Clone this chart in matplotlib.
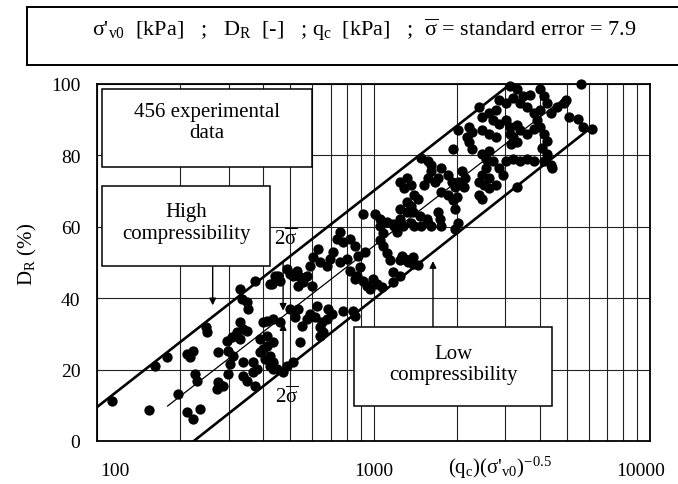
import numpy as np
import matplotlib
matplotlib.use("Agg")
import matplotlib.pyplot as plt
import matplotlib.transforms as mtransforms
from matplotlib.patches import Rectangle

plt.rcParams['font.family'] = ['Liberation Serif', 'DejaVu Serif']
plt.rcParams['mathtext.fontset'] = 'custom'
plt.rcParams['mathtext.rm'] = 'Liberation Serif'
plt.rcParams['mathtext.it'] = 'Liberation Serif:italic'

# normalised cone resistance (qc)(sigma'v0)^-0.5 and relative density DR (%)
q_norm = [
    113, 154, 162, 179, 196, 212, 222, 217, 248, 250, 226, 230, 212, 222, 236,
    274, 274, 272, 286, 295, 308, 321, 337, 298, 310, 303, 298, 337, 329, 349,
    351, 334, 372, 366, 379, 372, 389, 399, 412, 405, 423, 433, 399, 433, 430,
    441,
    916, 1012, 1055, 1119, 1177, 1279, 1216, 1321, 1390, 1472, 1561, 757, 738,
    776, 822, 857, 879, 931, 714, 697, 757, 802, 630, 604, 641, 679, 589, 575,
    600, 529, 512, 542, 556, 533, 487, 499, 452, 459, 423,
    822, 871, 857, 916, 947, 995, 1030, 970, 1074, 1177, 1247, 1177, 1300, 1390,
    1333, 1390, 1268, 893, 684, 708, 679, 652, 625, 589, 575, 614, 641, 656, 641,
    843, 857, 776, 533, 520, 551, 542, 499, 459, 412, 412, 433, 389, 423, 433,
    448, 471, 487, 512, 366, 337, 349, 329, 349, 329,
    5629, 3116, 3303, 3472, 3680, 3998, 4136, 2844, 3014, 3196, 3386, 2408, 2468,
    2618, 2774, 2706, 2844, 3014, 3116, 3303, 3591, 3805, 3998, 4240, 4384, 4612,
    4887, 4970, 5094, 5491, 5726, 6167, 3900, 3998, 4136, 4240, 4064, 4240, 4136,
    4384, 4420, 3386, 3591, 3805, 3116, 3196, 3303, 3143, 2023, 2215, 2270, 2468,
    2618, 2774, 2179, 2215, 2270, 1940, 2468, 2553, 2618, 2706, 2553, 2468, 2618,
    2408, 2512, 2844, 2940, 3014, 3196, 3386, 3591, 3805, 2774, 2618, 2408, 2468,
    3303, 2143, 2091, 2023, 2125, 1754, 1710, 1668, 1858, 1921, 1972, 2005, 1754,
    1858, 1940, 1972, 1614, 1574, 1523, 1486, 1574, 1614, 1367, 1288, 1247, 1321,
    1400, 1367, 1449, 1247, 1247, 1321, 1367, 1400, 1486, 1574, 1614, 1710, 1738,
    1754, 2023, 1972, 1186, 1081, 1055, 1081, 1119, 1148, 1247, 1321, 1449, 1055,
]
d_r = [
    11.2, 8.7, 21.0, 23.5, 13.2, 24.4, 25.2, 23.5, 31.9, 30.5, 18.8, 16.8, 8.1,
    6.2, 9.0, 24.9, 16.5, 14.6, 15.4, 28.0, 29.1, 30.5, 31.4, 25.2, 23.8, 21.6,
    18.8, 18.2, 42.6, 38.9, 37.0, 39.8, 44.8, 22.1, 20.2, 15.4, 28.6, 25.8, 26.6,
    23.0, 21.0, 20.2, 33.3, 34.2, 44.0, 46.2,
    63.6, 63.6, 62.2, 61.3, 60.8, 60.2, 58.5, 66.9, 64.1, 63.0, 62.2, 58.5, 56.6,
    55.7, 56.6, 54.6, 51.8, 52.9, 52.9, 51.0, 50.1, 51.0, 53.8, 51.5, 50.1, 49.0,
    49.0, 46.2, 43.4, 47.6, 46.2, 45.9, 44.5, 43.4, 48.2, 46.8, 46.2, 44.8, 44.0,
    47.6, 46.2, 45.4, 44.8, 43.4, 45.4, 44.0, 42.6, 43.1, 47.3, 46.2, 44.5, 51.0,
    51.5, 50.1, 49.6, 51.8, 48.7, 37.0, 35.6, 34.2, 33.3, 37.8, 35.6, 34.2, 34.7,
    31.9, 30.5, 29.4, 36.4, 35.0, 36.4, 37.0, 34.7, 32.2, 27.7, 37.0, 33.3, 33.6,
    29.4, 27.7, 24.9, 23.8, 22.1, 20.2, 19.3, 21.0, 22.1, 19.3, 22.1, 16.8, 33.3,
    30.8, 28.6,
    100.0, 99.4, 98.6, 96.6, 96.9, 98.6, 96.6, 95.5, 94.7, 96.1, 94.7, 93.6, 90.8,
    91.9, 92.7, 89.9, 88.8, 89.9, 88.0, 88.5, 93.6, 91.9, 92.7, 94.7, 91.9, 93.6,
    94.7, 95.5, 90.8, 90.2, 88.0, 87.4, 89.9, 88.0, 86.0, 84.0, 82.1, 80.4, 78.4,
    77.3, 76.5, 87.1, 86.0, 87.4, 86.0, 85.2, 83.8, 83.2, 87.1, 88.0, 86.6, 87.1,
    86.0, 85.2, 85.2, 83.8, 81.8, 81.8, 80.4, 79.0, 81.2, 78.4, 76.5, 74.5, 73.7,
    72.5, 71.7, 76.5, 74.5, 78.4, 79.0, 78.4, 79.0, 78.4, 71.7, 70.9, 68.9, 67.8,
    71.1, 73.7, 75.6, 72.5, 71.1, 76.5, 73.7, 72.5, 74.5, 72.5, 71.1, 68.3, 69.7,
    68.9, 67.5, 65.0, 75.6, 73.7, 71.7, 79.3, 78.4, 77.3, 71.7, 70.9, 72.5, 73.7,
    68.9, 65.8, 67.8, 65.0, 62.2, 64.1, 61.1, 60.2, 60.2, 61.1, 60.2, 64.1, 62.2,
    60.2, 61.1, 59.4, 60.2, 58.3, 60.2, 54.6, 52.7, 50.7, 50.7, 50.7, 49.3, 56.3,
]

# band lines (mean and +/- 2 standard errors), end points
upper_x, upper_y = [100, 3130], [9.5, 100]
centre_x, centre_y = [180, 4900], [9.8, 96]
lower_x, lower_y = [224, 6170], [0, 88]

fig = plt.figure(figsize=(6.78, 4.85), dpi=100)
ax = fig.add_axes([0.1431, 0.0887, 0.8156, 0.7361])

ax.set_xscale('log')
ax.set_xlim(100, 10000)
ax.set_ylim(0, 100)
ax.set_xticks([100, 1000, 10000])
ax.set_xticklabels(['100', '1000', '10000'])
ax.set_yticks([0, 20, 40, 60, 80, 100])
ax.tick_params(axis='both', which='both', length=0, labelsize=14)
ax.tick_params(axis='x', pad=15)
ax.tick_params(axis='y', pad=12)
ax.grid(True, which='both', axis='x', color='#222222', lw=0.8)
ax.grid(True, which='major', axis='y', color='#222222', lw=0.8)
for s in ax.spines.values():
    s.set_linewidth(1.3)

# the scanned labels sit a little off their grid lines
xlabels = ax.get_xticklabels()
xlabels[0].set_transform(xlabels[0].get_transform() +
                         mtransforms.ScaledTranslation(18 / 100, 0, fig.dpi_scale_trans))
xlabels[2].set_transform(xlabels[2].get_transform() +
                         mtransforms.ScaledTranslation(-9 / 100, 0, fig.dpi_scale_trans))

ax.plot(upper_x, upper_y, color='k', lw=1.9, zorder=4)
ax.plot(lower_x, lower_y, color='k', lw=1.9, zorder=4)
ax.plot(centre_x, centre_y, color='k', lw=0.9, zorder=4)
ax.scatter(q_norm, d_r, s=55, c='k', linewidths=0, zorder=5, clip_on=False)

# 2 sigma arrows
arw = dict(arrowstyle='-|>', color='k', lw=1.0, mutation_scale=10, shrinkA=0, shrinkB=0)
ax.annotate('', xy=(471, 36.5), xytext=(471, 50.2), arrowprops=arw, zorder=6)
ax.annotate('', xy=(471, 33.0), xytext=(471, 19.7), arrowprops=arw, zorder=6)
ax.text(480, 56.8, r'2$\overline{\mathrm{\sigma}}$', fontsize=15, ha='center', va='center')
ax.text(487, 12.6, r'2$\overline{\mathrm{\sigma}}$', fontsize=15, ha='center', va='center')
ax.annotate('', xy=(262, 38.0), xytext=(262, 49.0), arrowprops=arw, zorder=6)
ax.annotate('', xy=(1641, 50.4), xytext=(1641, 31.9), arrowprops=arw, zorder=6)

# text boxes
boxes = [
    (0.009, 0.767, 0.380, 0.219, '456 experimental\ndata', 0.893),
    (0.009, 0.490, 0.304, 0.224, 'High\ncompressibility', 0.612),
    (0.465, 0.098, 0.358, 0.221, 'Low\ncompressibility', 0.216),
]
for x0, y0, w, h, txt, ty in boxes:
    ax.add_patch(Rectangle((x0, y0), w, h, transform=ax.transAxes, facecolor='white',
                           edgecolor='k', lw=1.1, zorder=7))
    ax.text(x0 + w / 2, ty, txt, transform=ax.transAxes, ha='center', va='center',
            fontsize=15, linespacing=1.15, zorder=8)

ax.set_ylabel(r'D$_\mathrm{R}$ (%)', fontsize=15)
ax.yaxis.set_label_coords(-0.105, 0.524)
ax.text(0.729, -0.072, r"(q$_\mathrm{c}$)(σ'$_\mathrm{v0}$)$^{\mathrm{-0.5}}$",
        transform=ax.transAxes, ha='center', va='center', fontsize=15)

# header box
fig.patches.append(Rectangle((0.040, 0.864), 1.0, 0.120, transform=fig.transFigure,
                             facecolor='white', edgecolor='k', lw=1.4))
fig.text(0.537, 0.938,
         r"σ'$_\mathrm{v0}$  [kPa]   ;   D$_\mathrm{R}$  [-]   ; q$_\mathrm{c}$  [kPa]   ;  "
         r"$\overline{\mathrm{\sigma}}$ = standard error = 7.9",
         ha='center', va='center', fontsize=16)

fig.savefig('out.png', dpi=100)
